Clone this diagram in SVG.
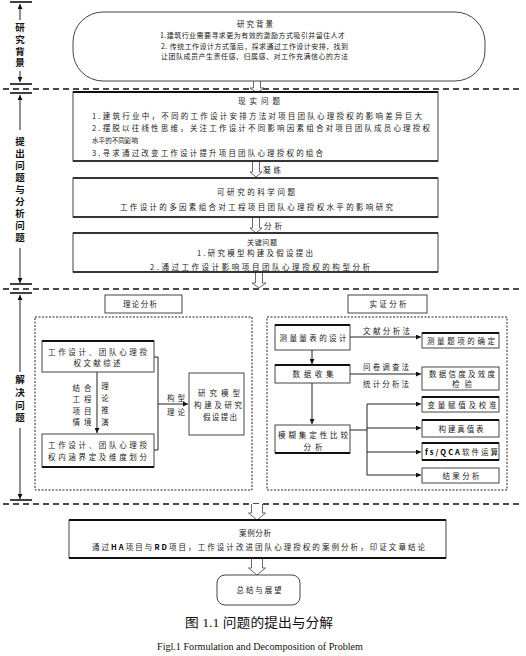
<svg xmlns="http://www.w3.org/2000/svg" width="526" height="656" viewBox="0 0 526 656">
<defs>
<marker id="ah" viewBox="0 0 6 6" refX="6" refY="3" markerWidth="5" markerHeight="5" markerUnits="userSpaceOnUse" orient="auto"><path d="M0,0 L6,3 L0,6 z" fill="#111"/></marker>
</defs>
<style>
text{font-family:"Noto Sans CJK SC","Noto Sans",sans-serif;font-size:7.5px;fill:#222}
.ax{font-size:9.5px;font-weight:bold;fill:#111;writing-mode:tb;glyph-orientation-vertical:0}
.c{text-anchor:middle}
.s7{font-size:7px}
.box{fill:#fff;stroke:#444;stroke-width:1}
.thk{stroke:#111;stroke-width:2;fill:none}
.mid{stroke:#111;stroke-width:1.4;fill:none}
.dash{stroke:#111;stroke-width:1.5;stroke-dasharray:6 4;fill:none}
.dot{stroke:#222;stroke-width:1;stroke-dasharray:2 1.5;fill:none}
.ln{stroke:#222;stroke-width:1;fill:none}
.tick{stroke:#111;stroke-width:1.6}
.ha{fill:#fff;stroke:#444;stroke-width:0.8}
.cap1{font-family:"Liberation Serif","Noto Sans CJK SC",serif;font-size:13px;fill:#111}
.cap2{font-family:"Liberation Serif",serif;font-size:10px;fill:#111}
.b{font-weight:bold;fill:#000}
</style>

<g id="axis">
<line class="tick" x1="10" y1="2" x2="32" y2="2"/>
<line class="ln" x1="20" y1="20" x2="20" y2="4" marker-end="url(#ah)"/>
<text class="ax" x="20" y="23" letter-spacing="2.2">研究背景</text>
<line class="ln" x1="20" y1="71" x2="20" y2="82" marker-end="url(#ah)"/>
<line class="tick" x1="10" y1="84" x2="32" y2="84"/>
<line class="tick" x1="10" y1="93" x2="32" y2="93"/>
<line class="ln" x1="20" y1="130" x2="20" y2="95" marker-end="url(#ah)"/>
<text class="ax" x="20" y="137" letter-spacing="2.5">提出问题与分析问题</text>
<line class="ln" x1="20" y1="248" x2="20" y2="283" marker-end="url(#ah)"/>
<line class="tick" x1="10" y1="284" x2="32" y2="284"/>
<line class="tick" x1="10" y1="293" x2="32" y2="293"/>
<line class="ln" x1="20" y1="372" x2="20" y2="295" marker-end="url(#ah)"/>
<text class="ax" x="20" y="375" letter-spacing="3.2">解决问题</text>
<line class="ln" x1="20" y1="428" x2="20" y2="499" marker-end="url(#ah)"/>
<line class="tick" x1="10" y1="500" x2="32" y2="500"/>
</g>

<g id="separators">
<line class="dash" x1="3" y1="89" x2="522" y2="89"/>
<line class="dash" x1="3" y1="289" x2="522" y2="289"/>
<line class="dash" x1="3" y1="504" x2="522" y2="504"/>
<rect class="dot" x="35" y="317" width="217" height="173"/>
<rect class="dot" x="267" y="317" width="240" height="173"/>
</g>

<g id="connectors">
<path class="ha" d="M253.5,81 V88 H250 L257,93 L264,88 H260.5 V81"/>
<path class="ha" d="M252.5,161 V172 H250 L256,177 L262,172 H259.5 V161"/>
<text x="263" y="173" textLength="18" lengthAdjust="spacing">凝练</text>
<path class="ha" d="M252.5,217 V228 H250 L256,233 L262,228 H259.5 V217"/>
<text x="264" y="229" textLength="18" lengthAdjust="spacing">分析</text>
<path class="ha" d="M255.5,272 V283 H252 L259,288 L266,283 H262.5 V272"/>
<path class="ha" d="M251.5,504 V513 H248.5 L257,520 L265.5,513 H262.5 V504"/>
<path class="ha" d="M251.5,558 V568 H248.5 L257,575 L265.5,568 H262.5 V558"/>
<line class="ln" x1="97" y1="372" x2="97" y2="433" marker-end="url(#ah)"/>
<path class="ln" d="M154,357 H158 V450 H154"/>
<line class="ln" x1="158" y1="404" x2="188" y2="404" marker-end="url(#ah)"/>
<text class="c" x="176" y="401" textLength="18" lengthAdjust="spacing">构型</text>
<text class="c" x="176" y="415" textLength="18" lengthAdjust="spacing">理论</text>
<text class="c" x="82" y="391" textLength="19" lengthAdjust="spacing">结合</text>
<text class="c" x="82" y="402" textLength="19" lengthAdjust="spacing">工程</text>
<text class="c" x="82" y="414" textLength="19" lengthAdjust="spacing">项目</text>
<text class="c" x="82" y="425" textLength="19" lengthAdjust="spacing">情境</text>
<text class="c" x="105" y="389">理</text><text class="c" x="105" y="401">论</text><text class="c" x="105" y="413">推</text><text class="c" x="105" y="425">演</text>
<line class="ln" x1="350" y1="337" x2="421" y2="337" marker-end="url(#ah)"/>
<text x="363" y="334" textLength="47" lengthAdjust="spacing">文献分析法</text>
<line class="ln" x1="312" y1="350" x2="312" y2="364" marker-end="url(#ah)"/>
<line class="ln" x1="350" y1="374" x2="421" y2="374" marker-end="url(#ah)"/>
<text x="363" y="370" textLength="46" lengthAdjust="spacing">问卷调查法</text>
<text x="363" y="387" textLength="46" lengthAdjust="spacing">统计分析法</text>
<line class="ln" x1="312" y1="383" x2="312" y2="424" marker-end="url(#ah)"/>
<path class="ln" d="M350,430 H367 M367,404 V475"/>
<line class="ln" x1="367" y1="404" x2="421" y2="404" marker-end="url(#ah)"/>
<line class="ln" x1="367" y1="428" x2="421" y2="428" marker-end="url(#ah)"/>
<line class="ln" x1="367" y1="452" x2="421" y2="452" marker-end="url(#ah)"/>
<line class="ln" x1="367" y1="475" x2="421" y2="475" marker-end="url(#ah)"/>
</g>

<g id="background">
<rect class="box" x="73" y="12" width="412" height="69" rx="30"/>
<text class="c" x="255" y="27" textLength="36" lengthAdjust="spacing">研究背景</text>
<text class="s7" x="160" y="38" textLength="185" lengthAdjust="spacing">1.建筑行业需要寻求更为有效的激励方式吸引并留住人才</text>
<text class="s7" x="161" y="49" textLength="187" lengthAdjust="spacing">2. 传统工作设计方式落后，探求通过工作设计安排，找到</text>
<text class="s7" x="161" y="59" textLength="187" lengthAdjust="spacing">让团队成员产生责任感、归属感、对工作充满信心的方法</text>
</g>

<g id="real-problem">
<rect class="box" x="73" y="92" width="365" height="69"/>
<line class="thk" x1="73" y1="92" x2="438" y2="92"/>
<line class="mid" x1="73" y1="161" x2="438" y2="161"/>
<text class="c" x="259" y="104" textLength="42" lengthAdjust="spacing">现实问题</text>
<text x="92" y="119" textLength="330" lengthAdjust="spacing">1.建筑行业中，不同的工作设计安排方法对项目团队心理授权的影响差异巨大</text>
<text x="92" y="131" textLength="338" lengthAdjust="spacing">2.摆脱以往线性思维，关注工作设计不同影响因素组合对项目团队成员心理授权</text>
<text class="s7" x="92" y="143" textLength="46" lengthAdjust="spacingAndGlyphs">水平的不同影响</text>
<text x="92" y="156" textLength="231" lengthAdjust="spacing">3.寻求通过改变工作设计提升项目团队心理授权的组合</text>
</g>

<g id="science-problem">
<rect class="box" x="73" y="178" width="365" height="39"/>
<line class="mid" x1="73" y1="178" x2="438" y2="178"/>
<line class="mid" x1="73" y1="217" x2="438" y2="217"/>
<text class="c" x="256" y="195" textLength="78" lengthAdjust="spacing">可研究的科学问题</text>
<text x="120" y="210" textLength="273" lengthAdjust="spacing">工作设计的多因素组合对工程项目团队心理授权水平的影响研究</text>
</g>

<g id="key-problem">
<rect class="box" x="73" y="233" width="365" height="39"/>
<line class="mid" x1="73" y1="233" x2="438" y2="233"/>
<line class="mid" x1="73" y1="272" x2="438" y2="272"/>
<text class="c s7" x="262" y="245" textLength="30" lengthAdjust="spacing">关键问题</text>
<text x="197" y="256" textLength="116" lengthAdjust="spacing">1.研究模型构建及假设提出</text>
<text x="150" y="270" textLength="220" lengthAdjust="spacing">2.通过工作设计影响项目团队心理授权的构型分析</text>
</g>

<g id="theory-title">
<rect class="box" x="105" y="295" width="77" height="18"/>
<text class="c" x="140" y="307" textLength="34" lengthAdjust="spacing">理论分析</text>
</g>
<g id="lit-review">
<rect class="box" x="42" y="341" width="112" height="31"/>
<line class="thk" x1="42" y1="341" x2="154" y2="341"/>
<text x="48" y="355" textLength="99" lengthAdjust="spacing">工作设计、团队心理授</text>
<text class="c" x="97" y="366" textLength="47" lengthAdjust="spacing">权文献综述</text>
</g>
<g id="definition">
<rect class="box" x="42" y="434" width="112" height="33"/>
<line class="thk" x1="42" y1="467" x2="154" y2="467"/>
<text x="48" y="448" textLength="99" lengthAdjust="spacing">工作设计、团队心理授</text>
<text x="48" y="460" textLength="99" lengthAdjust="spacing">权内涵界定及维度划分</text>
</g>
<g id="model">
<rect class="box" x="189" y="373" width="55" height="62"/>
<text class="c" x="219" y="396" textLength="42" lengthAdjust="spacing">研究模型</text>
<text class="c" x="218" y="408" textLength="48" lengthAdjust="spacing">构建及研究</text>
<text class="c" x="220" y="420" textLength="34" lengthAdjust="spacing">假设提出</text>
</g>

<g id="empirical-title">
<rect class="box" x="348" y="295" width="79" height="18"/>
<text class="c" x="388" y="307" textLength="37" lengthAdjust="spacing">实证分析</text>
</g>
<g id="scale-design">
<rect class="box" x="275" y="325" width="75" height="25"/>
<line class="thk" x1="275" y1="325" x2="350" y2="325"/>
<text class="c" x="313" y="341" textLength="67" lengthAdjust="spacing">测量量表的设计</text>
</g>
<g id="data-collect">
<rect class="box" x="275" y="365" width="75" height="18"/>
<line class="thk" x1="275" y1="365" x2="350" y2="365"/>
<text class="c" x="313" y="377" textLength="41" lengthAdjust="spacing">数据收集</text>
</g>
<g id="fsqca">
<rect class="box" x="275" y="425" width="75" height="28"/>
<line class="thk" x1="275" y1="453" x2="350" y2="453"/>
<text x="278" y="438" textLength="70" lengthAdjust="spacing">模糊集定性比较</text>
<text class="c" x="313" y="450" textLength="19" lengthAdjust="spacing">分析</text>
</g>
<g id="item-confirm">
<rect class="box" x="422" y="333" width="77" height="15"/>
<line class="thk" x1="422" y1="333" x2="499" y2="333"/>
<text class="c" x="461" y="344" textLength="68" lengthAdjust="spacing">测量题项的确定</text>
</g>
<g id="reliability">
<rect class="box" x="422" y="367" width="77" height="23"/>
<text class="c" x="462" y="377" textLength="66" lengthAdjust="spacing">数据信度及效度</text>
<text class="c" x="462" y="387" textLength="20" lengthAdjust="spacing">检验</text>
</g>
<g id="calibration">
<rect class="box" x="422" y="397" width="77" height="15"/>
<line class="thk" x1="422" y1="397" x2="499" y2="397"/>
<text class="c" x="462" y="408" textLength="69" lengthAdjust="spacing">变量赋值及校准</text>
</g>
<g id="truth-table">
<rect class="box" x="422" y="420" width="77" height="17"/>
<line class="thk" x1="422" y1="420" x2="499" y2="420"/>
<text class="c" x="461" y="432" textLength="45" lengthAdjust="spacing">构建真值表</text>
</g>
<g id="software">
<rect class="box" x="422" y="443" width="77" height="17"/>
<line class="thk" x1="422" y1="443" x2="499" y2="443"/>
<line class="thk" x1="422" y1="460" x2="499" y2="460"/>
<text x="425" y="455" textLength="73" lengthAdjust="spacing"><tspan class="b">fs/QCA</tspan>软件运算</text>
</g>
<g id="result">
<rect class="box" x="422" y="468" width="77" height="15"/>
<text class="c" x="461" y="479" textLength="37" lengthAdjust="spacing">结果分析</text>
</g>

<g id="case">
<rect class="box" x="69" y="520" width="377" height="38"/>
<line class="thk" x1="69" y1="520" x2="446" y2="520"/>
<line class="thk" x1="69" y1="558" x2="446" y2="558"/>
<text class="c" x="255" y="536" textLength="32" lengthAdjust="spacing">案例分析</text>
<text x="92" y="550" textLength="333" lengthAdjust="spacing">通过<tspan class="b">HA</tspan>项目与<tspan class="b">RD</tspan>项目，工作设计改进团队心理授权的案例分析，印证文章结论</text>
</g>

<g id="summary">
<rect class="box" x="217" y="575" width="83" height="30" rx="8"/>
<text class="c" x="259" y="593" textLength="45" lengthAdjust="spacing">总结与展望</text>
</g>

<g id="caption">
<text class="cap1 c" x="259" y="627" textLength="148" lengthAdjust="spacingAndGlyphs">图 1.1 问题的提出与分解</text>
<text class="cap2 c" x="260" y="650" textLength="206" lengthAdjust="spacingAndGlyphs">Figl.1 Formulation and Decomposition of Problem</text>
</g>
</svg>
